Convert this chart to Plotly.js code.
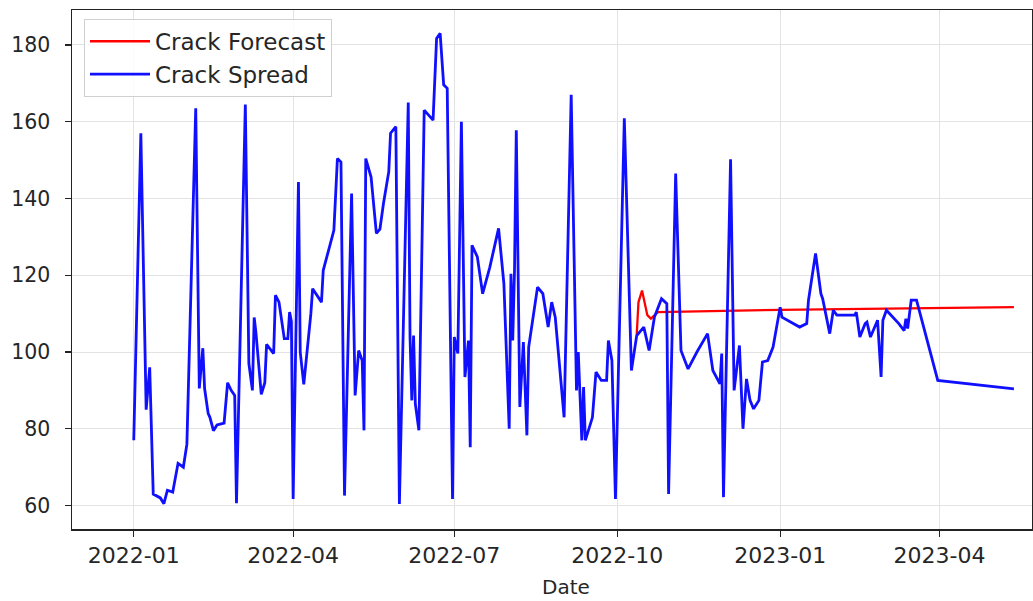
<!DOCTYPE html>
<html>
<head>
<meta charset="utf-8">
<script src="https://cdn.plot.ly/plotly-3.0.1.min.js"></script>
<style>
  html, body { margin: 0; padding: 0; background: #ffffff; }
  #chart { width: 1033px; height: 601px; }
</style>
</head>
<body>
<div id="chart"></div>
<script>
// Observed crack spread
const spreadDates = [
  '2022-01-01','2022-01-05','2022-01-08','2022-01-10','2022-01-12','2022-01-16','2022-01-18','2022-01-20',
  '2022-01-23','2022-01-26','2022-01-29','2022-01-31','2022-02-05','2022-02-07','2022-02-09','2022-02-10',
  '2022-02-12','2022-02-13','2022-02-15','2022-02-17','2022-02-21','2022-02-23','2022-02-25','2022-02-27',
  '2022-02-28','2022-03-05','2022-03-07','2022-03-09','2022-03-10','2022-03-11','2022-03-14','2022-03-16',
  '2022-03-17','2022-03-21','2022-03-22','2022-03-24','2022-03-27','2022-03-29','2022-03-30','2022-03-31',
  '2022-04-01','2022-04-04','2022-04-05','2022-04-07','2022-04-11','2022-04-12','2022-04-17','2022-04-18',
  '2022-04-21','2022-04-24','2022-04-26','2022-04-28','2022-04-30','2022-05-04','2022-05-06','2022-05-08',
  '2022-05-10','2022-05-11','2022-05-12','2022-05-13','2022-05-15','2022-05-18','2022-05-20','2022-05-22',
  '2022-05-25','2022-05-26','2022-05-29','2022-05-31','2022-06-05','2022-06-06','2022-06-07','2022-06-08',
  '2022-06-09','2022-06-11','2022-06-14','2022-06-19','2022-06-21','2022-06-23','2022-06-25','2022-06-27',
  '2022-06-30','2022-07-01','2022-07-03','2022-07-05','2022-07-07','2022-07-09','2022-07-10','2022-07-11',
  '2022-07-14','2022-07-17','2022-07-21','2022-07-26','2022-07-29','2022-08-01','2022-08-02','2022-08-03',
  '2022-08-04','2022-08-05','2022-08-07','2022-08-09','2022-08-11','2022-08-12','2022-08-17','2022-08-20',
  '2022-08-23','2022-08-25','2022-08-27','2022-09-01','2022-09-05','2022-09-08','2022-09-09','2022-09-11',
  '2022-09-12','2022-09-13','2022-09-17','2022-09-19','2022-09-22','2022-09-25','2022-09-26','2022-09-28',
  '2022-09-30','2022-10-05','2022-10-09','2022-10-12','2022-10-16','2022-10-19','2022-10-22','2022-10-26',
  '2022-10-29','2022-10-30','2022-11-03','2022-11-06','2022-11-10','2022-11-15','2022-11-21','2022-11-24',
  '2022-11-28','2022-11-29','2022-11-30','2022-12-04','2022-12-06','2022-12-09','2022-12-11','2022-12-13',
  '2022-12-15','2022-12-17','2022-12-20','2022-12-22','2022-12-25','2022-12-28','2023-01-01','2023-01-02',
  '2023-01-12','2023-01-16','2023-01-17','2023-01-21','2023-01-24','2023-01-25','2023-01-29','2023-01-31',
  '2023-02-02','2023-02-12','2023-02-13','2023-02-15','2023-02-18','2023-02-19','2023-02-21','2023-02-25',
  '2023-02-27','2023-02-28','2023-03-02','2023-03-09','2023-03-12','2023-03-13','2023-03-14','2023-03-16',
  '2023-03-19','2023-03-31','2023-05-13'
];
const spreadValues = [
  77, 157, 85, 96, 63, 62, 60.5, 64,
  63.5, 71, 70, 76, 163.5, 90.5, 101, 90.5,
  84, 83, 79.5, 81, 81.5, 92, 90, 88.7,
  60.6, 164.5, 97, 90, 109, 105, 89, 92,
  102, 99.6, 114.8, 113, 103.5, 103.5, 110.4, 108,
  61.7, 144.3, 100, 91.6, 110, 116.5, 113, 121.3,
  126.5, 131.7, 150.4, 149.5, 62.6, 141.3, 88.7, 100.4,
  97.8, 79.6, 150.4, 148.7, 145.6, 130.9, 132, 138.7,
  147, 157, 158.7, 60.4, 165, 103.9, 87.4, 104.3,
  86.5, 79.6, 163, 160.4, 181.7, 183, 169.6, 168.7,
  61.7, 103.9, 99.6, 160, 93.5, 103, 75.2, 127.8,
  124.8, 115.2, 122, 132.2, 117.8, 80, 120.4, 103,
  121.3, 157.8, 85.7, 102.6, 78.3, 101.3, 116.9, 115.2,
  106.5, 113, 109.1, 83, 167, 90, 100, 77,
  90.9, 77, 83, 94.8, 92.6, 92.6, 103, 97.8,
  61.7, 160.9, 95.2, 104.3, 106.5, 100.4, 109.1, 113.9,
  112.6, 63, 146.5, 100.4, 95.6, 100, 104.8, 95.2,
  91.7, 99.6, 62.2, 150.2, 90, 101.7, 80, 93,
  87.4, 85.2, 87.4, 97.4, 97.8, 101.3, 111.7, 109.1,
  106.5, 107.4, 113.5, 125.7, 115.2, 113.9, 104.8, 110.9,
  109.6, 109.6, 110.4, 103.9, 107.4, 107.8, 103.9, 108.3,
  93.5, 108.3, 110.9, 107.4, 105.6, 108.7, 106.1, 113.5,
  113.5, 92.6, 90.4
];

// Model forecast
const forecastDates = ['2022-10-12','2022-10-13','2022-10-15','2022-10-18','2022-10-20','2022-10-24','2023-01-01','2023-05-13'];
const forecastValues = [104.5, 113, 116, 109.6, 108.7, 110.4, 111.0, 111.7];

// Axis ticks
const tickDates = ['2022-01-01','2022-04-01','2022-07-01','2022-10-01','2023-01-01','2023-04-01'];
const tickLabels = ['2022-01','2022-04','2022-07','2022-10','2023-01','2023-04'];
const yTicks = [60, 80, 100, 120, 140, 160, 180];

const textColor = '#262626';
const fontFamily = '"DejaVu Sans", "Liberation Sans", sans-serif';

const traces = [
  {
    x: forecastDates, y: forecastValues, type: 'scatter', mode: 'lines',
    name: 'Crack Forecast',
    line: { color: '#ff0000', width: 2.3 }
  },
  {
    x: spreadDates, y: spreadValues, type: 'scatter', mode: 'lines',
    name: 'Crack Spread',
    line: { color: '#1010ff', width: 2.8 }
  }
];

const layout = {
  width: 1033, height: 601,
  margin: { l: 72, r: 1, t: 10, b: 72, pad: 0 },
  paper_bgcolor: '#ffffff', plot_bgcolor: '#ffffff',
  font: { family: fontFamily, size: 20, color: textColor },
  showlegend: true,
  legend: {
    x: 0.0125, y: 0.983, xanchor: 'left', yanchor: 'top',
    bgcolor: 'rgba(255,255,255,0.85)', bordercolor: '#d0d0d0', borderwidth: 1,
    font: { family: fontFamily, size: 23, color: textColor },
    itemwidth: 60
  },
  xaxis: {
    type: 'date',
    range: ['2021-11-27 03:00', '2023-05-23 05:00'],
    tickvals: tickDates, ticktext: tickLabels,
    showgrid: true, gridcolor: '#e3e3e3', gridwidth: 1,
    zeroline: false,
    showline: true, linecolor: '#222222', linewidth: 1.5, mirror: true,
    ticks: 'outside', ticklen: 6, tickwidth: 1.2, tickcolor: '#222222',
    tickfont: { family: fontFamily, size: 22, color: textColor }
  },
  yaxis: {
    range: [53.9, 189.1],
    tickvals: yTicks,
    showgrid: true, gridcolor: '#e3e3e3', gridwidth: 1,
    zeroline: false,
    showline: true, linecolor: '#222222', linewidth: 1.5, mirror: true,
    ticks: 'outside', ticklen: 6, tickwidth: 1.2, tickcolor: '#222222',
    ticklabelstandoff: 10,
    tickfont: { family: fontFamily, size: 20.5, color: textColor }
  },
  annotations: [
    {
      text: 'Date', xref: 'paper', yref: 'paper',
      x: 0.515, y: -0.112, xanchor: 'center', yanchor: 'middle',
      showarrow: false, font: { family: fontFamily, size: 20, color: textColor }
    }
  ]
};

Plotly.newPlot('chart', traces, layout, { displayModeBar: false, staticPlot: true });
</script>
</body>
</html>
